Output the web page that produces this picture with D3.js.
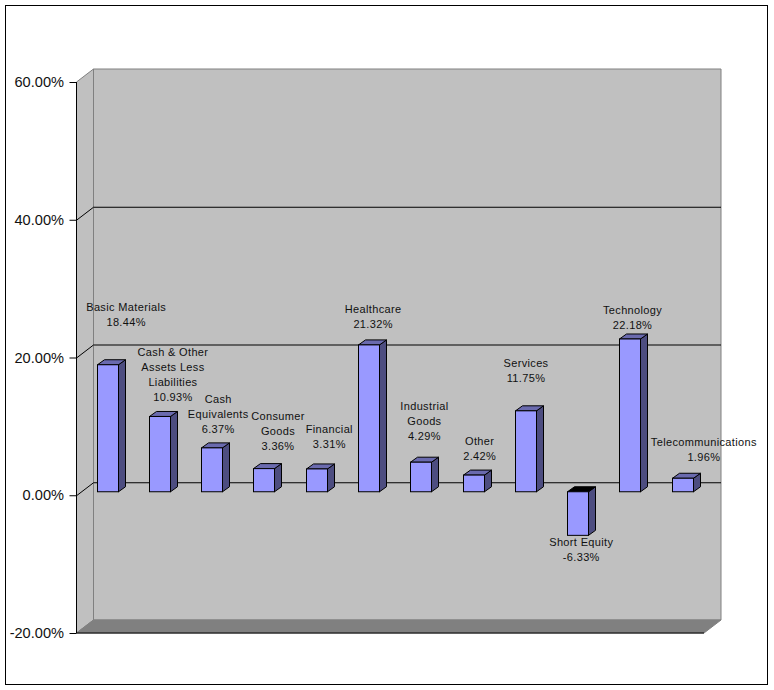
<!DOCTYPE html>
<html><head><meta charset="utf-8">
<style>html,body{margin:0;padding:0;background:#fff}svg{display:block}text{font-family:"Liberation Sans",Arial,sans-serif;fill:#111}</style>
<script src="https://cdn.jsdelivr.net/npm/d3@7"></script></head><body>
<div id="c"></div>
<script>
const categories=[["Basic Materials"],["Cash & Other","Assets Less","Liabilities"],["Cash","Equivalents"],["Consumer","Goods"],["Financial"],["Healthcare"],["Industrial","Goods"],["Other"],["Services"],["Short Equity"],["Technology"],["Telecommunications"]];
const values=[18.44,10.93,6.37,3.36,3.31,21.32,4.29,2.42,11.75,-6.33,22.18,1.96];
const tickValues=[-20,0,20,40,60];
// label placement: centre offset from the bar's band centre, and baseline of the value line
const labelDx=[23.5,18,11,18.5,17.5,9,8,11,5,8,7,26];
const labelBaseline=[326,401,433,450,448,328,440,460,382,561,329,461];
const W=774,H=690,depthX=17,depthY=13;
const svg=d3.select("#c").append("svg").attr("width",W).attr("height",H);
svg.append("rect").attr("x",5.5).attr("y",5.5).attr("width",762).attr("height",679).attr("fill","#fff").attr("stroke","#000");
const y=d3.scaleLinear().domain([-20,60]).range([633,82]);
const idx=categories.map((d,i)=>i);
const x=d3.scaleBand().domain(idx).range([76.5,704]).paddingInner(0);
const L=76.5,R=704,T=y(60),B=y(-20);
const poly=(pts,fill,stroke)=>svg.append("polygon").attr("points",pts.map(p=>p.join(",")).join(" ")).attr("fill",fill).attr("stroke",stroke||"none");
// walls
poly([[L,T],[L+depthX,T-depthY],[L+depthX,B-depthY],[L,B]],"#c0c0c0","#808080");
poly([[L+depthX,T-depthY],[R+depthX,T-depthY],[R+depthX,B-depthY],[L+depthX,B-depthY]],"#c0c0c0","#808080");
poly([[L,B],[L+depthX,B-depthY],[R+depthX,B-depthY],[R,B]],"#808080","#808080");
// gridlines
const gridG=svg.append("g").attr("stroke","#000").attr("fill","none");
[0,20,40].forEach(v=>{
  gridG.append("path").attr("d",`M${L},${y(v)+.5}L${L+depthX},${y(v)-depthY+.5}H${R+depthX}`);
});
svg.append("path").attr("d",`M${L},${T}V${B}H${R}`).attr("fill","none").attr("stroke","#000");
// axis
const axis=d3.axisLeft(y).tickValues(tickValues).tickSize(7).tickPadding(5.5).tickFormat(v=>v.toFixed(2)+"%");
const ag=svg.append("g").attr("transform",`translate(${L},0)`).call(axis);
ag.select(".domain").remove();
ag.selectAll("text").attr("font-size",14.6).style("font-family",'"Liberation Sans",Arial,sans-serif').attr("fill","#111");
ag.selectAll("line").attr("stroke","#000");
// bars
const barW=21,barDx=7,barDy=5,offX=20.5,offY=3.5;
const bars=svg.append("g").attr("stroke","#000").attr("stroke-width",1);
idx.forEach(i=>{
  const x0=Math.floor(x(i)+offX)+.5,x1=x0+barW;
  const a=y(values[i])-offY,b=y(0)-offY;
  const top=Math.min(a,b),bot=Math.max(a,b);
  const g=bars.append("g");
  g.append("polygon").attr("points",[[x1,top],[x1+barDx,top-barDy],[x1+barDx,bot-barDy],[x1,bot]].join(" ")).attr("fill","#4d4d80");
  g.append("polygon").attr("points",[[x0,top],[x0+barDx,top-barDy],[x1+barDx,top-barDy],[x1,top]].join(" ")).attr("fill",values[i]<0?"#000":"#6a6aae");
  g.append("rect").attr("x",x0).attr("y",top).attr("width",barW).attr("height",bot-top).attr("fill","#9999ff");
});
// labels
const lab=svg.append("g").attr("font-size",11).attr("text-anchor","middle");
idx.forEach(i=>{
  const cx=x(i)+x.bandwidth()/2+labelDx[i];
  const lines=[...categories[i],values[i].toFixed(2)+"%"];
  lines.forEach((t,k)=>{
    lab.append("text").attr("x",cx).attr("y",labelBaseline[i]-(lines.length-1-k)*15).attr("letter-spacing",.35).text(t);
  });
});
</script></body></html>
